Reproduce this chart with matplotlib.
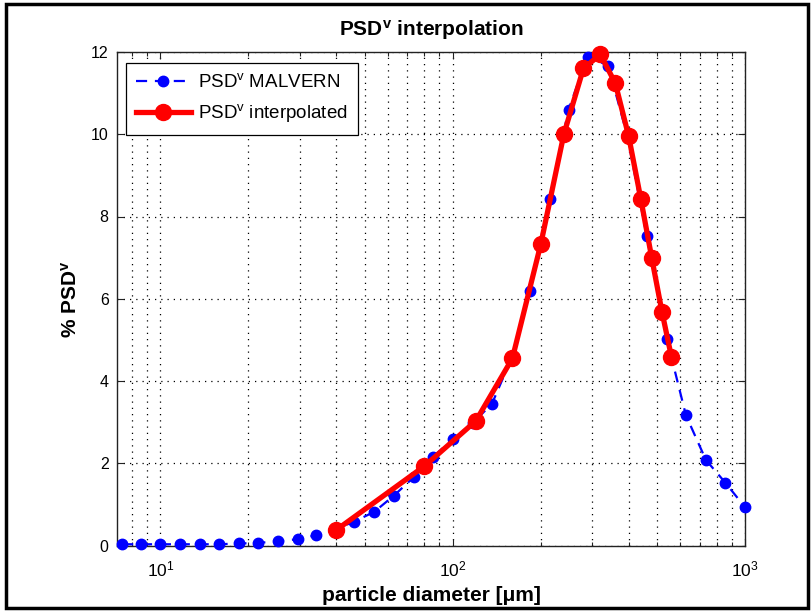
import matplotlib
matplotlib.use("Agg")
import matplotlib.pyplot as plt
from matplotlib.patches import Rectangle
from matplotlib.ticker import LogLocator, NullFormatter, MultipleLocator

plt.rcParams['font.family'] = ['Liberation Sans', 'DejaVu Sans']
plt.rcParams['mathtext.fontset'] = 'custom'
plt.rcParams['mathtext.rm'] = 'Liberation Sans'
plt.rcParams['mathtext.it'] = 'Liberation Sans:italic'
plt.rcParams['mathtext.bf'] = 'Liberation Sans:bold'

# Malvern measured distribution
malvern_d = [7.39, 8.59, 10.0, 11.64, 13.61, 15.85, 18.56, 21.52, 25.33, 29.44, 34.02,
             39.68, 46.03, 53.9, 62.84, 73.8, 85.7, 100.2, 117.3, 136.3, 158.8, 183.4,
             214.8, 249.0, 289.3, 340.3, 395.4, 461.2, 540.0, 627.6, 734.8, 855.9, 1000.0]
malvern_psd = [0.03, 0.03, 0.03, 0.03, 0.03, 0.03, 0.05, 0.06, 0.11, 0.15, 0.25,
               0.40, 0.58, 0.82, 1.21, 1.67, 2.16, 2.59, 2.98, 3.45, 4.55, 6.18,
               8.43, 10.6, 11.89, 11.67, 9.97, 7.52, 5.03, 3.17, 2.08, 1.53, 0.93]

# Interpolated distribution
interp_d = [40, 80, 120, 160, 200, 240, 280, 320, 360, 400, 440, 480, 520, 560]
interp_psd = [0.38, 1.93, 3.03, 4.55, 7.32, 10.0, 11.6, 11.94, 11.24, 9.95, 8.43, 6.98, 5.68, 4.59]

fig = plt.figure(figsize=(8.12, 6.12), dpi=100)
ax = fig.add_axes([117/812, 1-545.5/612, (745-117)/812, (545.5-52)/612])

ax.plot(malvern_d, malvern_psd, '--o', color='#0000ff', lw=1.6, ms=7.5,
        dashes=(5, 3.5), label='PSD$^{\\mathrm{v}}$ MALVERN', zorder=3, clip_on=False)
ax.plot(interp_d, interp_psd, '-o', color='#ff0000', lw=3.8, ms=11.5,
        label='PSD$^{\\mathrm{v}}$ interpolated', zorder=4, clip_on=False)

ax.set_xscale('log')
ax.set_xlim(7.1, 1000)
ax.set_ylim(0, 12)
ax.yaxis.set_major_locator(MultipleLocator(2))
ax.xaxis.set_major_locator(LogLocator(base=10, numticks=10))
ax.xaxis.set_minor_locator(LogLocator(base=10, subs=range(2, 10), numticks=20))
ax.xaxis.set_minor_formatter(NullFormatter())

ax.grid(True, which='major', axis='both', color='black', linestyle=(0, (1, 4)), lw=0.9)
ax.grid(True, which='minor', axis='x', color='black', linestyle=(0, (1, 4)), lw=0.9)

ax.tick_params(which='both', direction='in', top=True, right=True,
               colors='#222222', labelcolor='black')
ax.tick_params(axis='y', labelsize=11.5)
ax.tick_params(axis='x', labelsize=12.5)
ax.tick_params(which='major', length=5, width=0.8, pad=6)
ax.tick_params(axis='x', which='major', pad=10)
ax.tick_params(which='minor', length=3, width=0.8)
for s in ax.spines.values():
    s.set_color('#222222')
    s.set_linewidth(1.0)

ax.set_title('PSD$^{\\mathbf{v}}$ interpolation', fontsize=15, fontweight='bold', pad=12)
ax.set_xlabel('particle diameter [μm]', fontsize=15, fontweight='bold', labelpad=5)
ax.set_ylabel('% PSD$^{\\mathbf{v}}$', fontsize=15, fontweight='bold', labelpad=7)

leg = ax.legend(loc='upper left', bbox_to_anchor=(0.0143, 0.978), borderaxespad=0,
                fontsize=13.5, fancybox=False, framealpha=1, edgecolor='black',
                handlelength=2.9, handletextpad=0.4, borderpad=0.55, labelspacing=0.6)
leg.get_frame().set_linewidth(0.9)

fig.patches.append(Rectangle((6/812, 4/612), 802/812, 604/612, transform=fig.transFigure,
                             fill=False, edgecolor='black', lw=2.5))

fig.savefig('out.png', dpi=100)
